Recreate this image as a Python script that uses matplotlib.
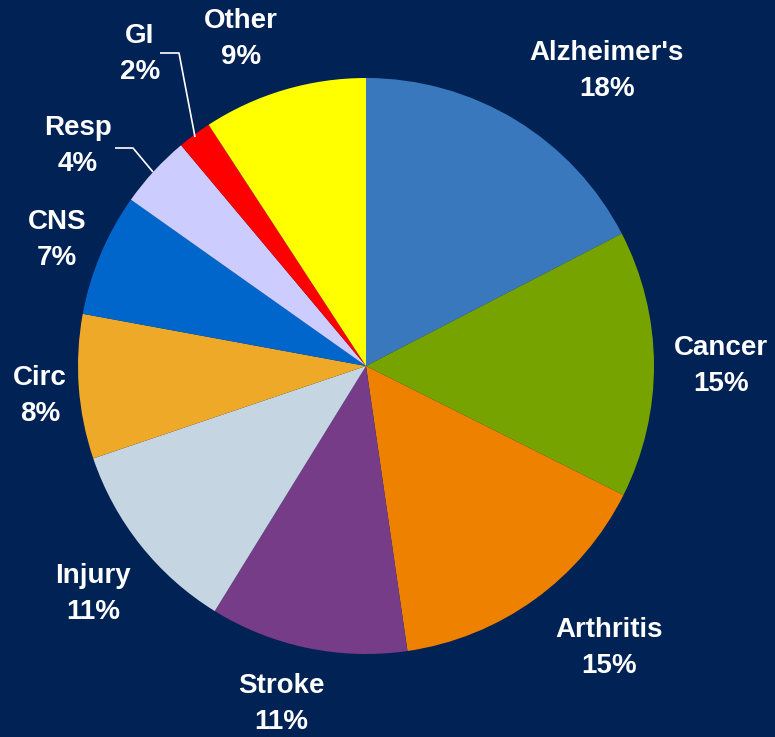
import matplotlib
matplotlib.use("Agg")
import matplotlib.pyplot as plt

categories = ["Alzheimer's", "Cancer", "Arthritis", "Stroke", "Injury",
              "Circ", "CNS", "Resp", "GI", "Other"]
values = [17.4, 15.0, 15.3, 11.1, 11.0, 8.1, 6.9, 4.1, 1.9, 9.2]
pct_labels = ["18%", "15%", "15%", "11%", "11%", "8%", "7%", "4%", "2%", "9%"]
colors = ["#3A78BE", "#76A300", "#EE8200", "#763C87", "#C5D5E1",
          "#EEA928", "#0066CC", "#CCCCFF", "#FF0000", "#FFFF00"]

BG = "#002254"
W, H = 775, 737
fig = plt.figure(figsize=(W / 100, H / 100), dpi=100, facecolor=BG)
ax = fig.add_axes([0, 0, 1, 1])
ax.set_facecolor(BG)

cx, cy, R = 366, H - 366, 288
ax.pie(values, colors=colors, startangle=90, counterclock=False,
       center=(cx, cy), radius=R, frame=True,
       wedgeprops=dict(linewidth=0))
ax.set_xlim(0, W)
ax.set_ylim(0, H)
ax.axis("off")

# label block centres in pixel coords (from top-left)
label_pos = [(607, 71), (721, 366), (609, 648), (281, 704), (93, 594),
             (40, 396), (57, 240), (78, 146), (140, 54), (241, 39)]

for name, pct, (px, py) in zip(categories, pct_labels, label_pos):
    ax.text(px, H - py, f"{name}\n{pct}", ha="center", va="center",
            multialignment="center", color="white", fontsize=20,
            fontweight="bold", family=["Liberation Sans", "DejaVu Sans"],
            linespacing=1.5)

# leader lines
for pts in [[(160, 53), (179, 53), (195, 137)],
            [(115, 148), (133, 148), (153, 172)]]:
    xs = [p[0] for p in pts]
    ys = [H - p[1] for p in pts]
    ax.plot(xs, ys, color="white", lw=1.2, solid_capstyle="butt")

fig.savefig("out.png", dpi=100, facecolor=BG)
